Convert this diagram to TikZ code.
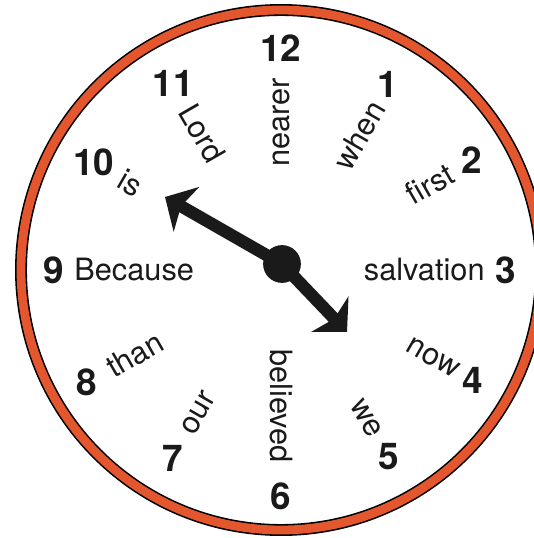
\documentclass[tikz,border=0pt]{standalone}
\usepackage{fontspec}
\setmainfont{TeX Gyre Heros}
\usepackage{tikz}
\usetikzlibrary{arrows.meta}
\definecolor{Rim_Orange}{HTML}{E4572E}
\definecolor{Hand_Black}{HTML}{1A1A1A}

\begin{document}
\begin{tikzpicture}[x=0.02cm, y=0.02cm,
    hournum/.style={font=\fontsize{21}{21}\selectfont\bfseries, text=Hand_Black, inner sep=0pt},
    clockword/.style={font=\fontsize{17.5}{17.5}\selectfont, text=Hand_Black, inner sep=0pt},
    hand/.style={line width=7pt, Hand_Black, -{Stealth[length=14pt, width=29pt, inset=3.5pt]}}]
    \useasboundingbox (-281,-268) rectangle (253,270);
    % Rim of the clock
    \draw[black, line width=6.8pt] (0,0) circle (260);
    \draw[Rim_Orange, line width=5pt] (0,0) circle (260);
    % Hour numbers
    \foreach \h/\r in {12/222, 1/214, 2/220, 3/225, 4/221, 5/215, 6/226, 7/217, 8/224, 9/227, 10/216, 11/215}
        \node[hournum] (num\h) at ({90-30*\h}:\r) {\h};
    % Words along the dial
    \foreach \h/\w/\r/\rot/\anc in {12/nearer/192/90/east, 1/when/193/60/east, 2/first/197/30/east,
            3/salvation/204/0/east, 4/now/204/-30/east, 5/we/191/-60/east, 6/believed/193/-90/east,
            7/our/188/60/west, 8/than/199/30/west, 9/Because/207/0/west, 10/is/185/-30/west, 11/Lord/189/-60/west}
        \node[clockword, rotate=\rot, anchor=\anc] (word\h) at ({90-30*\h}:\r) {\w};
    % Hands
    \node[circle, fill=Hand_Black, minimum size=21.5pt, inner sep=0pt] (pivot) at (1,6) {};
    \coordinate (tipTen) at (-116,73);
    \coordinate (tipFour) at (66,-62);
    \draw[hand] (pivot.center) -- (tipTen);
    \draw[hand] (pivot.center) -- (tipFour);
\end{tikzpicture}
\end{document}
